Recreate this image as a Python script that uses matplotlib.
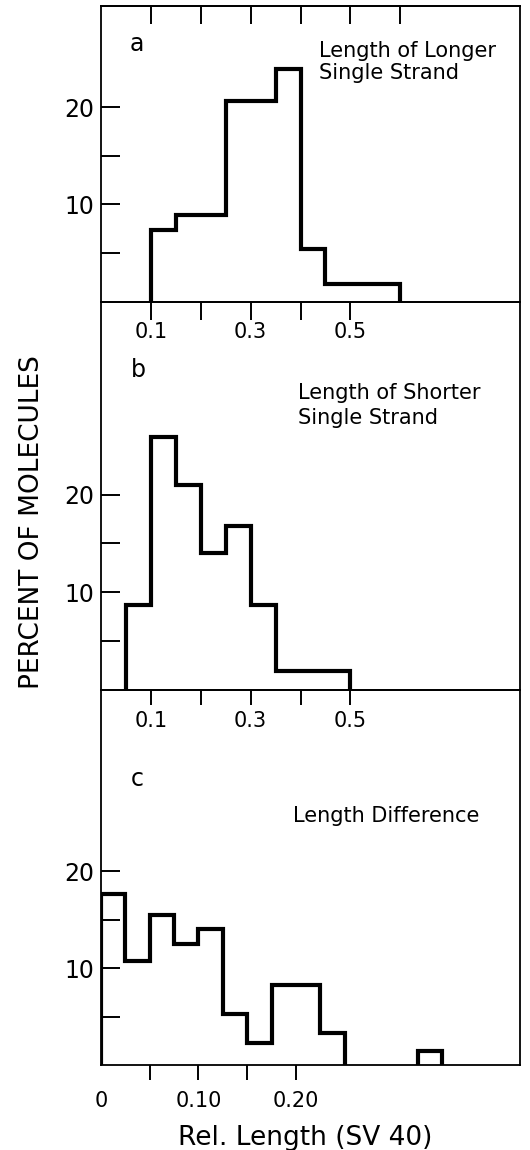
import numpy as np
import matplotlib
matplotlib.use("Agg")
import matplotlib.pyplot as plt

plt.rcParams['font.family'] = ['DejaVu Sans']

# panel a: length of longer single strand
a_edges = [0.10, 0.15, 0.20, 0.25, 0.30, 0.35, 0.40, 0.45, 0.50, 0.55, 0.60]
a_pct = [7.4, 8.9, 8.9, 20.6, 20.6, 23.9, 5.4, 1.8, 1.8, 1.8]

# panel b: length of shorter single strand
b_edges = [0.05, 0.10, 0.15, 0.20, 0.25, 0.30, 0.35, 0.40, 0.45, 0.50]
b_pct = [8.7, 25.9, 21.0, 14.0, 16.8, 8.7, 1.9, 1.9, 1.9]

# panel c: length difference
c_edges = [0, 0.025, 0.05, 0.075, 0.10, 0.125, 0.15, 0.175, 0.20, 0.225,
           0.25, 0.275, 0.30, 0.325, 0.35]
c_pct = [17.6, 10.7, 15.5, 12.5, 14.0, 5.3, 2.3, 8.3, 8.3, 3.3, 0, 0, 0, 1.4]

ab_ticks = [0.1, 0.2, 0.3, 0.4, 0.5]
ab_labels = ['0.1', '', '0.3', '', '0.5']
c_ticks = [0, 0.05, 0.10, 0.15, 0.20]
c_labels = ['0', '', '0.10', '', '0.20']
y_ticks = [5, 10, 15, 20]
y_labels = ['', '10', '', '20']

fig = plt.figure(figsize=(5.3, 11.5), dpi=100)
ax_a = fig.add_axes([0.1906, 0.7377, 0.7906, 0.2571])
ax_b = fig.add_axes([0.1906, 0.4004, 0.7906, 0.3370])
ax_c = fig.add_axes([0.1906, 0.0739, 0.7906, 0.3261])


def style(ax, xmax, ymax, xticks, xlabels, xlen, xpad):
    ax.patch.set_visible(False)
    ax.set_xlim(0, xmax)
    ax.set_ylim(0, ymax)
    for s in ax.spines.values():
        s.set_linewidth(1.3)
    ax.set_yticks(y_ticks)
    ax.set_yticklabels(y_labels)
    ax.tick_params(axis='y', direction='in', length=13.5, width=1.4,
                   labelsize=17, pad=5)
    ax.set_xticks(xticks)
    ax.set_xticklabels(xlabels)
    ax.tick_params(axis='x', direction='out', length=xlen, width=1.4,
                   labelsize=15, pad=xpad)


def draw_hist(ax, edges, vals):
    vals = np.array(vals, dtype=float)
    vals[vals == 0] = np.nan  # empty bins break the outline
    ax.stairs(vals, edges, baseline=0, color='black', lw=3.0)


style(ax_a, 0.84, 30.4, ab_ticks, ab_labels, 13, 1.5)
style(ax_b, 0.84, 39.8, ab_ticks, ab_labels, 10.5, 5)
style(ax_c, 0.43, 38.7, c_ticks, c_labels, 11, 7.5)
ax_c.xaxis.get_major_ticks()[0].tick1line.set_visible(False)

# inward ticks along top of panel a
top = ax_a.secondary_xaxis('top')
top.set_xticks([0.1, 0.2, 0.3, 0.4, 0.5, 0.6])
top.tick_params(direction='in', length=13, width=1.4, labeltop=False)
top.spines['top'].set_linewidth(1.3)

draw_hist(ax_a, a_edges, a_pct)
draw_hist(ax_b, b_edges, b_pct)
draw_hist(ax_c, c_edges, c_pct)

ax_a.text(0.085, 0.849, 'a', transform=ax_a.transAxes, fontsize=17,
          ha='center', va='baseline')
ax_a.text(0.52, 0.829, 'Length of Longer', transform=ax_a.transAxes,
          fontsize=15, va='baseline')
ax_a.text(0.52, 0.753, 'Single Strand', transform=ax_a.transAxes,
          fontsize=15, va='baseline')

ax_b.text(0.089, 0.806, 'b', transform=ax_b.transAxes, fontsize=17,
          ha='center', va='baseline')
ax_b.text(0.471, 0.750, 'Length of Shorter', transform=ax_b.transAxes,
          fontsize=15, va='baseline')
ax_b.text(0.471, 0.685, 'Single Strand', transform=ax_b.transAxes,
          fontsize=15, va='baseline')

ax_c.text(0.086, 0.744, 'c', transform=ax_c.transAxes, fontsize=17,
          ha='center', va='baseline')
ax_c.text(0.4575, 0.647, 'Length Difference', transform=ax_c.transAxes,
          fontsize=15, va='baseline')

fig.text(0.06, 0.546, 'PERCENT OF MOLECULES', rotation=90, fontsize=19,
         ha='center', va='center')
fig.text(0.5755, 0.004, 'Rel. Length (SV 40)', fontsize=19,
         ha='center', va='baseline')

fig.savefig('out.png', dpi=100)
